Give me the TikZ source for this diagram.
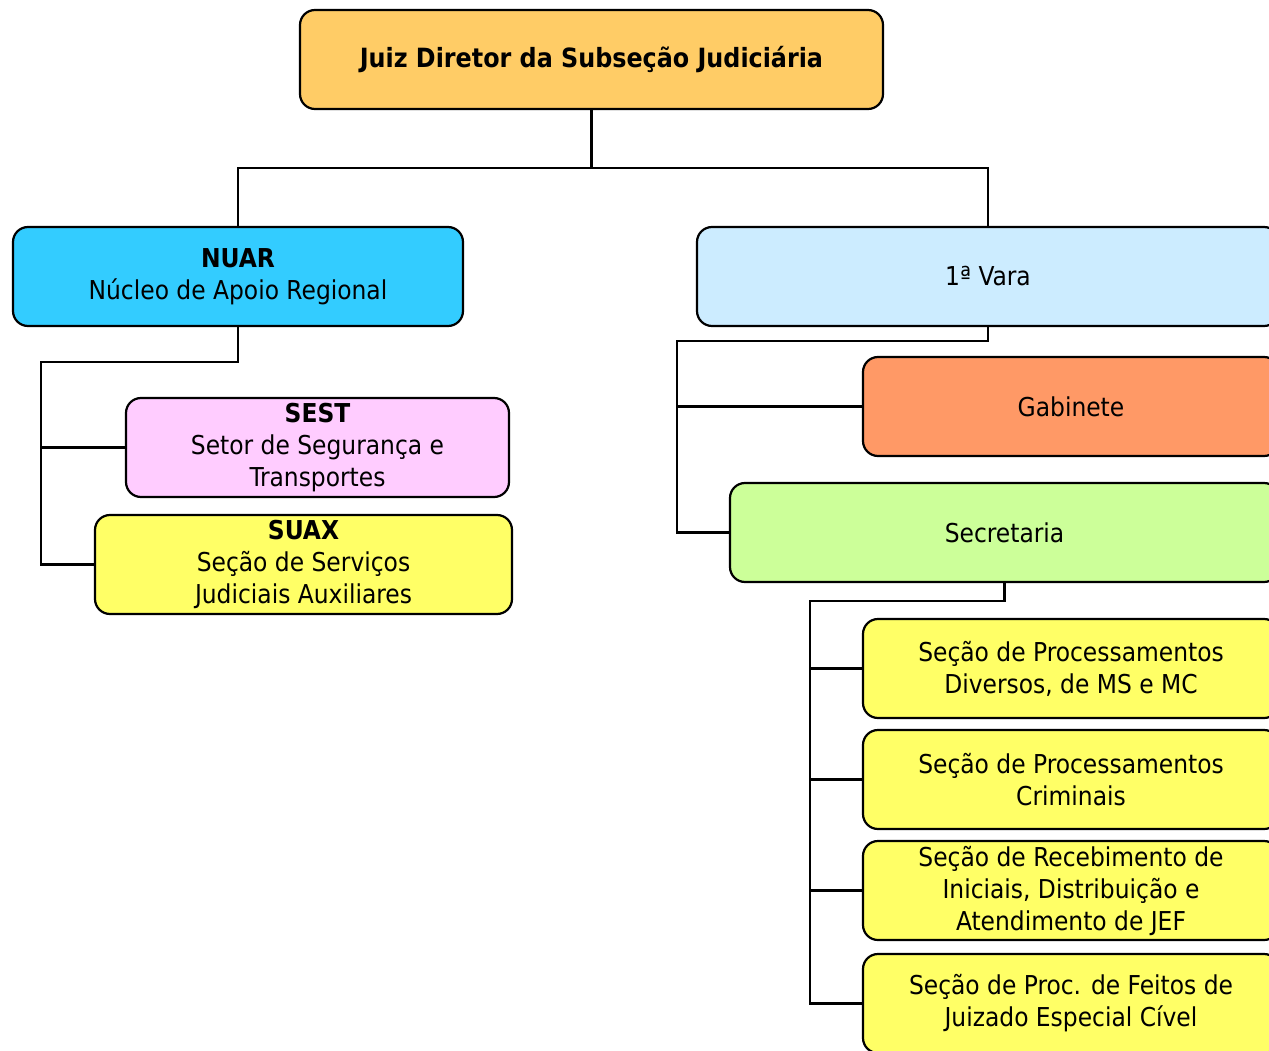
\documentclass[tikz,border=0pt]{standalone}
\usepackage{fontspec}
\setmainfont{DejaVu Sans Condensed}
\definecolor{juizcol}{HTML}{FFCC66}
\definecolor{nuarcol}{HTML}{33CCFF}
\definecolor{varacol}{HTML}{CCECFF}
\definecolor{sestcol}{HTML}{FFCCFF}
\definecolor{secaocol}{HTML}{FFFF66}
\definecolor{gabcol}{HTML}{FF9966}
\definecolor{secrcol}{HTML}{CCFF99}
\begin{document}
\begin{tikzpicture}[
        x=1pt, y=-1pt,
        unit/.style={draw, line width=2.2pt, rounded corners=15pt,
          minimum height=99pt, inner sep=2pt, align=center,
          font=\fontsize{26}{32}\selectfont},
        link/.style={line width=2.2pt}
      ]
      \useasboundingbox (0,0) rectangle (1269,1051);

      \node[unit, fill=juizcol, minimum width=583pt] (juiz) at (591.5, 59.5)
        {\fontsize{26.5}{32}\selectfont\textbf{Juiz Diretor da Subseção Judiciária}};

      \node[unit, fill=nuarcol,  minimum width=450pt] (nuar) at (238.0, 276.5)
        {\textbf{NUAR}\\Núcleo de Apoio Regional};
      \node[unit, fill=varacol,  minimum width=582pt] (vara) at (988.0, 276.5)
        {1ª Vara};

      \node[unit, fill=sestcol,  minimum width=383pt] (sest) at (317.5, 447.5)
        {\textbf{SEST}\\Setor de Segurança e\\Transportes};
      \node[unit, fill=secaocol, minimum width=417pt] (suax) at (303.5, 564.5)
        {\textbf{SUAX}\\Seção de Serviços\\Judiciais Auxiliares};

      \node[unit, fill=gabcol,   minimum width=416pt] (gab)  at (1071.0, 406.5)
        {Gabinete};
      \node[unit, fill=secrcol,  minimum width=549pt] (secr) at (1004.5, 532.5)
        {Secretaria};

      \node[unit, fill=secaocol, minimum width=416pt] (divs) at (1071.0, 668.5)
        {Seção de Processamentos\\Diversos, de MS e MC};
      \node[unit, fill=secaocol, minimum width=416pt] (crim) at (1071.0, 779.5)
        {Seção de Processamentos\\Criminais};
      \node[unit, fill=secaocol, minimum width=416pt] (jef)  at (1071.0, 890.5)
        {Seção de Recebimento de\\Iniciais, Distribuição e\\Atendimento de JEF};
      \node[unit, fill=secaocol, minimum width=416pt] (jec)  at (1071.0, 1003.5)
        {Seção de Proc. de Feitos de\\Juizado Especial Cível};

      % connectors
      \coordinate (topbus)  at (591.5, 168);
      \coordinate (nuarbus) at (41, 362);
      \coordinate (varabus) at (677, 341);
      \coordinate (secrbus) at (810, 601);

      \draw[link] (juiz.south) -- (topbus) -| (nuar.north);
      \draw[link] (topbus) -| (vara.north);

      \draw[link] (nuar.south) |- (nuarbus) |- (suax.west);
      \draw[link] (nuarbus |- sest.west) -- (sest.west);

      \draw[link] (vara.south) |- (varabus) |- (secr.west);
      \draw[link] (varabus |- gab.west) -- (gab.west);

      \draw[link] (secr.south) |- (secrbus) |- (jec.west);
      \foreach \sec in {divs, crim, jef}
        \draw[link] (secrbus |- \sec.west) -- (\sec.west);

    \end{tikzpicture}
\end{document}
